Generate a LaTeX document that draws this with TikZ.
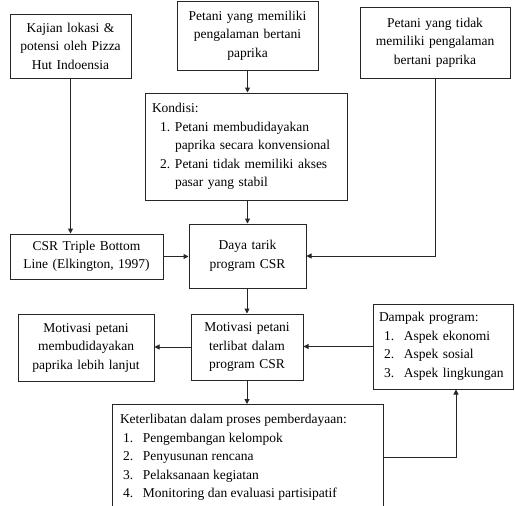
\documentclass[tikz,border=0pt]{standalone}
\usepackage{fontspec}
\setmainfont{Liberation Serif}
\usetikzlibrary{arrows.meta,positioning}
\newcommand\numit[2]{\hspace*{#1}\makebox[#2][l]}
\begin{document}
\begin{tikzpicture}[x=1pt,y=-1pt,
  box/.style={draw=black!85,line width=1pt,rectangle,inner sep=0pt,align=center,
    font=\fontsize{13.5}{18.5}\selectfont},
  lbox/.style={box,align=left},
  conn/.style={draw=black!85,line width=1pt},
  arr/.style={conn,-{Triangle[length=5pt,width=5pt]}}]
\useasboundingbox (0,0) rectangle (515,506);
\fill[white] (0,0) rectangle (515,506);

\node[box,minimum width=121pt,minimum height=64pt,text width=115pt] (A) at (70.5,46)
  {Kajian lokasi \&\\ potensi oleh Pizza\\ Hut Indoensia};
\node[box,minimum width=141pt,minimum height=69pt,text width=135pt] (B) at (247.5,35.5)
  {Petani yang memiliki\\ pengalaman bertani\\ paprika};
\node[box,minimum width=150pt,minimum height=71pt,text width=144pt] (C) at (435,42.5)
  {Petani yang tidak\\ memiliki pengalaman\\ bertani paprika};
\node[lbox,minimum height=107pt,text width=188pt,inner xsep=7pt] (D) at (246,146.5)
  {Kondisi:\\
   \numit{8pt}{15pt}{1.}Petani membudidayakan\\
   \numit{8pt}{15pt}{}paprika secara konvensional\\
   \numit{8pt}{15pt}{2.}Petani tidak memiliki akses\\
   \numit{8pt}{15pt}{}pasar yang stabil};
\node[box,minimum width=153pt,minimum height=45pt,text width=150pt] (E) at (86.5,256.5)
  {CSR Triple Bottom\\ Line (Elkington, 1997)};
\node[box,minimum width=117pt,minimum height=64pt,text width=111pt] (F) at (247.5,256)
  {Daya tarik\\ program CSR};
\node[box,minimum width=136pt,minimum height=67pt,text width=132pt] (G) at (86,347.5)
  {Motivasi petani\\ membudidayakan\\ paprika lebih lanjut};
\node[box,minimum width=112pt,minimum height=66pt,text width=108pt] (H) at (247,347)
  {Motivasi petani\\ terlibat dalam\\ program CSR};
\node[lbox,minimum height=85pt,text width=128pt,inner xsep=6pt] (I) at (443,346.5)
  {Dampak program:\\
   \numit{5pt}{20pt}{1.}Aspek ekonomi\\
   \numit{5pt}{20pt}{2.}Aspek sosial\\
   \numit{5pt}{20pt}{3.}Aspek lingkungan};
\node[box,anchor=north,inner xsep=8pt,inner ysep=0pt] (J) at (247.5,404)
  {\parbox[c][120pt][t]{255pt}{\raggedright\vspace*{10pt}%
   Keterlibatan dalam proses pemberdayaan:\\
   \numit{3pt}{20pt}{1.}Pengembangan kelompok\\
   \numit{3pt}{20pt}{2.}Penyusunan rencana\\
   \numit{3pt}{20pt}{3.}Pelaksanaan kegiatan\\
   \numit{3pt}{20pt}{4.}Monitoring dan evaluasi partisipatif}};

\draw[arr] (B.south) -- (B.south |- D.north);
\draw[arr] (D.south -| F.north) -- (F.north);
\draw[arr] (A.south) -- (A.south |- E.north);
\draw[arr] (C.south) |- (F.east);
\draw[arr] (E.east) -- (E.east -| F.west);
\draw[arr] (F.south) -- (F.south -| H.north) -- (H.north);
\draw[arr] (H.west) -- (H.west -| G.east);
\draw[arr] (I.west) -- (I.west -| H.east);
\draw[arr] (H.south) -- (H.south |- J.north);
\coordinate (Iin) at ([xshift=13pt]I.south);
\draw[arr] ([yshift=7pt]J.east) -| (Iin);
\end{tikzpicture}
\end{document}
